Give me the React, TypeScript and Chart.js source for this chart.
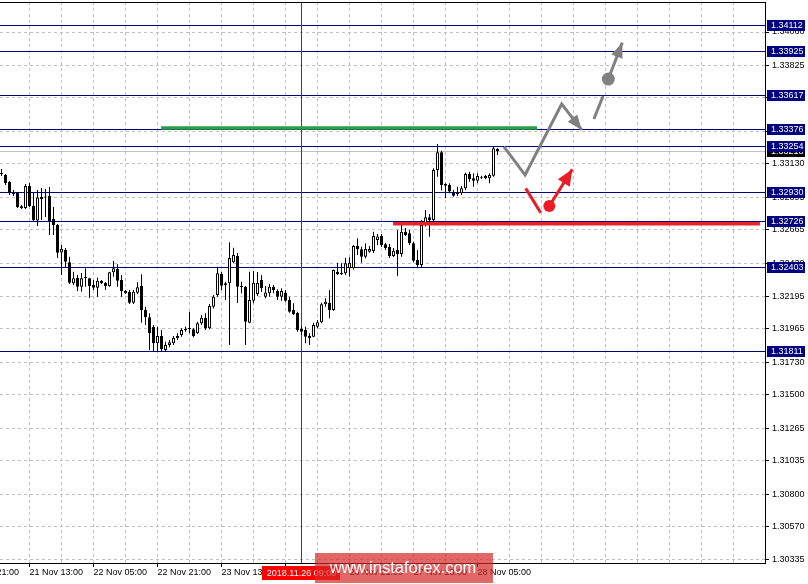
import React, { useEffect, useRef } from "react";
import { Chart, registerables } from "chart.js";
Chart.register(...registerables);

// ---- candle data (H1 bars, index 0 = 21 Nov 06:00) ----
const opens = [1.33058,1.33051,1.33002,1.32928,1.32924,1.3283,1.32818,1.32974,1.32833,1.3273,1.32882,1.32892,1.32903,1.32741,1.32699,1.32504,1.32522,1.32435,1.32287,1.32325,1.32263,1.32325,1.32322,1.32275,1.32256,1.32305,1.32289,1.32268,1.32365,1.32388,1.3231,1.32217,1.32228,1.3215,1.32221,1.32268,1.32099,1.32047,1.31981,1.31864,1.31915,1.31817,1.31852,1.31864,1.31899,1.31922,1.31958,1.31965,1.31963,1.31934,1.32005,1.32044,1.3197,1.32122,1.32205,1.32353,1.32273,1.32287,1.32435,1.3248,1.32268,1.32263,1.32009,1.32164,1.32212,1.3231,1.32192,1.32217,1.32263,1.32233,1.32192,1.32223,1.32169,1.32099,1.3208,1.31965,1.31958,1.31915,1.3191,1.31981,1.32012,1.32139,1.3215,1.32099,1.32369,1.32362,1.32358,1.32393,1.32393,1.3255,1.32527,1.32475,1.3251,1.32515,1.32593,1.32621,1.32562,1.32545,1.3248,1.32522,1.32494,1.32651,1.3264,1.32569,1.32452,1.32416,1.32699,1.32753,1.32734,1.33086,1.33211,1.32988,1.32981,1.32926,1.32929,1.32922,1.32957,1.33058,1.33028,1.33011,1.33039,1.33044,1.33028,1.33046,1.33235];
const highs = [1.33093,1.33058,1.33009,1.32945,1.32931,1.3284,1.32988,1.32995,1.32924,1.32945,1.3296,1.32952,1.32967,1.32826,1.32706,1.32557,1.32536,1.32475,1.32369,1.32346,1.3236,1.32393,1.32327,1.3231,1.32327,1.3231,1.32296,1.32369,1.32444,1.32421,1.32346,1.3224,1.3224,1.3224,1.32294,1.32351,1.32122,1.32075,1.31993,1.31981,1.31958,1.31875,1.31887,1.31915,1.31934,1.3197,1.31981,1.32087,1.3197,1.32016,1.32064,1.32075,1.32141,1.32205,1.32404,1.32369,1.32298,1.32576,1.32538,1.32501,1.32298,1.32268,1.32369,1.32374,1.32367,1.32346,1.32268,1.32282,1.32275,1.32245,1.32252,1.3224,1.32192,1.32146,1.32087,1.31981,1.31981,1.31934,1.32009,1.32028,1.3215,1.32181,1.3224,1.32385,1.32432,1.32428,1.32468,1.32471,1.32557,1.32605,1.32545,1.32569,1.3255,1.32651,1.32635,1.32635,1.32571,1.32564,1.32536,1.32663,1.32706,1.32677,1.32663,1.32581,1.32522,1.32734,1.32804,1.32776,1.33098,1.3327,1.33223,1.32993,1.32993,1.32945,1.32969,1.32974,1.33067,1.33074,1.33063,1.33063,1.33046,1.33051,1.33063,1.33251,1.3324];
const lows = [1.33044,1.32981,1.3291,1.32903,1.32819,1.32812,1.32812,1.32826,1.32727,1.32692,1.32734,1.32755,1.32628,1.32628,1.32466,1.32346,1.32402,1.32282,1.32275,1.32233,1.32228,1.32263,1.32183,1.3224,1.32192,1.32282,1.3224,1.32263,1.32334,1.32263,1.32192,1.32212,1.32141,1.32141,1.32212,1.32009,1.31993,1.31817,1.31805,1.31805,1.31805,1.31803,1.31836,1.31852,1.31887,1.3191,1.31946,1.31934,1.31906,1.31929,1.31993,1.31958,1.31963,1.3211,1.32192,1.3224,1.32169,1.31852,1.32428,1.32148,1.32217,1.31852,1.32005,1.32146,1.32197,1.32226,1.32181,1.32192,1.32217,1.32169,1.32164,1.32157,1.3208,1.32064,1.31946,1.31922,1.31864,1.31852,1.31906,1.3197,1.32005,1.32122,1.3204,1.32094,1.32346,1.32346,1.32346,1.32334,1.32385,1.32487,1.32432,1.32464,1.32503,1.32501,1.32557,1.32543,1.32522,1.32466,1.32473,1.32339,1.32475,1.32621,1.32557,1.32437,1.32393,1.32402,1.32687,1.32616,1.32727,1.33039,1.32941,1.32887,1.32922,1.32898,1.32903,1.3291,1.32945,1.33004,1.32969,1.32993,1.33023,1.33021,1.32993,1.33039,1.33192];
const closes = [1.33062,1.32995,1.32924,1.32917,1.32826,1.32818,1.32974,1.32833,1.32734,1.32892,1.32896,1.329,1.32727,1.32699,1.32503,1.32529,1.32439,1.32291,1.32322,1.32263,1.32322,1.32327,1.32268,1.32256,1.32305,1.32287,1.32268,1.32365,1.32393,1.32305,1.32233,1.32233,1.3215,1.32228,1.32259,1.32099,1.32047,1.31934,1.31864,1.31915,1.31822,1.31852,1.31871,1.31903,1.31915,1.31958,1.31965,1.31967,1.31915,1.32005,1.32044,1.3197,1.32127,1.32192,1.32358,1.3227,1.32287,1.32466,1.32487,1.32263,1.32261,1.32016,1.32169,1.32291,1.32289,1.32252,1.32223,1.32263,1.3224,1.32192,1.32233,1.32164,1.32087,1.32069,1.31958,1.31946,1.3191,1.31899,1.31993,1.32012,1.32139,1.32157,1.32099,1.32381,1.32351,1.32351,1.32428,1.32432,1.3255,1.32527,1.32475,1.32529,1.32529,1.32621,1.32617,1.32557,1.32534,1.3248,1.32517,1.32492,1.32651,1.32628,1.32569,1.32447,1.32416,1.32699,1.32753,1.32734,1.33086,1.33211,1.32981,1.32976,1.32934,1.32905,1.32915,1.32957,1.33058,1.33023,1.33011,1.33044,1.33032,1.33028,1.33051,1.3324,1.33221];

// ---- levels & axis ----
const levelValues = [1.34112, 1.33925, 1.33617, 1.33376, 1.33254, 1.3293, 1.32726, 1.32403, 1.31811];
const bidPrice = 1.33218;
const yTickValues = [1.30335,1.3057,1.308,1.31035,1.31265,1.315,1.3173,1.31965,1.32195,1.3243,1.32665,1.32895,1.3313,1.3336,1.33595,1.33825,1.3406];
const yTickLabels = ["1.30335","1.30570","1.30800","1.31035","1.31265","1.31500","1.31730","1.31965","1.32195","1.32430","1.32665","1.32895","1.33130","1.33360","1.33595","1.33825","1.34060"];
const xTickBars = [-9, 7, 23, 39, 55, 71, 87, 103, 119];
const xTickLabels = ["20 Nov 21:00","21 Nov 13:00","22 Nov 05:00","22 Nov 21:00","23 Nov 13:00","26 Nov 05:00","26 Nov 21:00","27 Nov 13:00","28 Nov 05:00"];
const markerBar = 75;
const markerLabel = "2018.11.26 09:00";
const watermark = "www.instaforex.com";

// ---- drawn objects ----
const greenX = [39.9, 133.9];
const greenY = 1.33383;
const redLineX = [97.9, 189.6];
const redLineY = 1.32707;
const grayPathX = [125.6, 130.9, 140.05, 145.05];
const grayPathY = [1.33251, 1.33051, 1.33552, 1.33369];
const graySegX = [148.1, 150.4];
const graySegY = [1.33446, 1.33609];
const grayArrowX = [151.7, 155.2];
const grayArrowY = [1.33728, 1.33985];
const redSegX = [131.05, 134.8];
const redSegY = [1.32957, 1.32785];
const redArrowX = [136.95, 142.7];
const redArrowY = [1.32832, 1.33091];

const X_MIN = -0.375;
const X_MAX = 190.875;
const Y_MIN = 1.303138;
const Y_MAX = 1.342717;
const FONT = "Liberation Sans";

const pts = (xs: number[], ys: number[]) => xs.map((x, i) => ({ x, y: ys[i] }));

function arrowHead(ctx: CanvasRenderingContext2D, fx: number, fy: number, tx: number, ty: number, len: number, w: number, color: string) {
  const a = Math.atan2(ty - fy, tx - fx);
  const bx = tx - len * Math.cos(a);
  const by = ty - len * Math.sin(a);
  const nx = -Math.sin(a) * w / 2;
  const ny = Math.cos(a) * w / 2;
  ctx.save();
  ctx.fillStyle = color;
  ctx.beginPath();
  ctx.moveTo(tx, ty);
  ctx.lineTo(bx + nx, by + ny);
  ctx.lineTo(bx - nx, by - ny);
  ctx.closePath();
  ctx.fill();
  ctx.restore();
}

const overlay = {
  id: "overlay",
  beforeDatasetsDraw(chart: any) {
    const { ctx, chartArea, scales } = chart;
    const { left, right, top, bottom } = chartArea;
    const y = scales.y, x = scales.x;
    ctx.save();
    ctx.lineWidth = 1;
    ctx.setLineDash([]);
    const hline = (v: number, color: string) => {
      const py = Math.round(y.getPixelForValue(v)) + 0.5;
      ctx.strokeStyle = color;
      ctx.beginPath();
      ctx.moveTo(left, py);
      ctx.lineTo(right, py);
      ctx.stroke();
    };
    hline(bidPrice, "#c0c0c0");
    levelValues.forEach((v) => hline(v, "#000080"));
    const mx = Math.floor(x.getPixelForValue(markerBar)) + 0.5;
    ctx.strokeStyle = "#e00000";
    ctx.beginPath();
    ctx.moveTo(mx, top);
    ctx.lineTo(mx, bottom);
    ctx.stroke();
    ctx.restore();
  },
  afterDatasetsDraw(chart: any) {
    const { ctx } = chart;
    const head = (dsIndex: number, len: number, w: number, color: string) => {
      const d = chart.getDatasetMeta(dsIndex).data;
      const a = d[d.length - 2], b = d[d.length - 1];
      arrowHead(ctx, a.x, a.y, b.x, b.y, len, w, color);
    };
    head(4, 15, 12, "#808080");
    head(6, 15, 12, "#808080");
    head(8, 16, 14, "#ed1c24");
  },
  afterDraw(chart: any) {
    const { ctx, chartArea, scales } = chart;
    const { left, right, top, bottom } = chartArea;
    const y = scales.y, x = scales.x;
    ctx.save();
    ctx.setLineDash([]);
    // top border
    ctx.strokeStyle = "#000";
    ctx.lineWidth = 1;
    ctx.beginPath();
    ctx.moveTo(left, top + 0.5);
    ctx.lineTo(right, top + 0.5);
    ctx.stroke();
    // price boxes
    ctx.font = `9px "${FONT}"`;
    ctx.textBaseline = "middle";
    ctx.textAlign = "left";
    const box = (v: number, bg: string) => {
      const py = Math.round(y.getPixelForValue(v));
      ctx.fillStyle = bg;
      ctx.fillRect(right + 2, py - 5, 38, 11);
      ctx.fillStyle = "#fff";
      ctx.fillText(v.toFixed(5), right + 6, py + 0.5);
    };
    box(bidPrice, "#000");
    levelValues.forEach((v) => box(v, "#000080"));
    // date box
    const mx = Math.floor(x.getPixelForValue(markerBar)) + 0.5;
    ctx.fillStyle = "#ff0000";
    ctx.fillRect(mx - 39.5, bottom + 3, 78, 14);
    ctx.fillStyle = "#fff";
    ctx.textAlign = "center";
    ctx.fillText(markerLabel, mx, bottom + 10.5);
    // watermark
    ctx.fillStyle = "rgba(214, 40, 40, 0.7)";
    ctx.fillRect(315, bottom - 10, 178, 30);
    ctx.fillStyle = "#fff";
    ctx.font = `16.5px "${FONT}"`;
    ctx.textAlign = "center";
    ctx.fillText(watermark, 403, bottom + 5);
    ctx.restore();
  },
};

export default function App() {
  const ref = useRef<HTMLCanvasElement>(null);
  useEffect(() => {
    const idx = opens.map((_, i) => i);
    const up = idx.map((i) => closes[i] >= opens[i]);
    const chart = new Chart(ref.current as HTMLCanvasElement, {
      type: "bar",
      data: {
        datasets: [
          {
            type: "bar",
            data: idx.map((i) => ({ x: i, y: [lows[i], highs[i]] })) as any,
            backgroundColor: "#000",
            borderWidth: 0,
            barThickness: 1,
            grouped: false,
            inflateAmount: 0,
            order: 6,
          } as any,
          {
            type: "bar",
            data: idx.map((i) => ({ x: i, y: [opens[i], closes[i]] })) as any,
            backgroundColor: idx.map((i) => (up[i] ? "#fff" : "#000")),
            borderColor: "#000",
            borderWidth: 1,
            borderSkipped: false,
            barThickness: 3,
            minBarLength: 1,
            grouped: false,
            inflateAmount: 0,
            order: 5,
          } as any,
          {
            type: "line",
            data: pts(greenX, [greenY, greenY]),
            borderColor: "#28a046",
            borderWidth: 3.5,
            pointRadius: 0,
            order: 3,
          } as any,
          {
            type: "line",
            data: pts(redLineX, [redLineY, redLineY]),
            borderColor: "#ea2228",
            borderWidth: 3.5,
            pointRadius: 0,
            order: 3,
          } as any,
          {
            type: "line",
            data: pts(grayPathX, grayPathY),
            borderColor: "#808080",
            borderWidth: 3,
            borderJoinStyle: "miter",
            pointRadius: 0,
            order: 2,
          } as any,
          {
            type: "line",
            data: pts(graySegX, graySegY),
            borderColor: "#808080",
            borderWidth: 3,
            pointRadius: 0,
            order: 2,
          } as any,
          {
            type: "line",
            data: pts(grayArrowX, grayArrowY),
            borderColor: "#808080",
            borderWidth: 3,
            pointRadius: [6.5, 0],
            pointBackgroundColor: "#808080",
            pointBorderWidth: 0,
            order: 2,
          } as any,
          {
            type: "line",
            data: pts(redSegX, redSegY),
            borderColor: "#ed1c24",
            borderWidth: 3,
            pointRadius: 0,
            order: 1,
          } as any,
          {
            type: "line",
            data: pts(redArrowX, redArrowY),
            borderColor: "#ed1c24",
            borderWidth: 3,
            pointRadius: [6, 0],
            pointBackgroundColor: "#ed1c24",
            pointBorderWidth: 0,
            order: 1,
          } as any,
        ],
      },
      options: {
        animation: false,
        responsive: true,
        maintainAspectRatio: false,
        devicePixelRatio: 1,
        events: [],
        layout: { autoPadding: false, padding: { top: 2, left: 0, right: 0, bottom: 0 } },
        plugins: { legend: { display: false }, tooltip: { enabled: false } },
        scales: {
          x: {
            type: "linear",
            min: X_MIN,
            max: X_MAX,
            offset: false,
            afterBuildTicks: (scale: any) => {
              const t = [];
              for (let b = -9; b <= 190; b += 8) t.push({ value: b });
              scale.ticks = t;
            },
            afterFit: (scale: any) => {
              scale.height = 21;
              scale.paddingLeft = 0;
              scale.paddingRight = 0;
              scale.paddingTop = 0;
              scale.paddingBottom = 0;
            },
            grid: {
              offset: false,
              color: "#c0c0c0",
              lineWidth: 1,
              drawTicks: true,
              tickLength: 4,
              tickBorderDash: [],
              tickColor: (c: any) => (c.tick && xTickBars.includes(c.tick.value) ? "#000" : "rgba(0,0,0,0)"),
              borderDash: [3, 3],
            } as any,
            border: { display: true, color: "#000", width: 1, dash: [3, 3] } as any,
            ticks: {
              autoSkip: false,
              maxRotation: 0,
              minRotation: 0,
              align: "start",
              padding: 0,
              color: "#000",
              font: { family: FONT, size: 9 },
              callback: (v: any) => {
                const k = xTickBars.indexOf(Number(v));
                return k >= 0 ? xTickLabels[k] : "";
              },
            },
          },
          y: {
            type: "linear",
            position: "right",
            min: Y_MIN,
            max: Y_MAX,
            beginAtZero: false,
            afterBuildTicks: (scale: any) => {
              scale.ticks = yTickValues.map((v) => ({ value: v }));
            },
            afterFit: (scale: any) => {
              scale.width = 43;
              scale.paddingLeft = 0;
              scale.paddingRight = 0;
              scale.paddingTop = 0;
              scale.paddingBottom = 0;
            },
            grid: {
              color: "#c0c0c0",
              lineWidth: 1,
              drawTicks: true,
              tickLength: 4,
              tickColor: "#000",
              tickBorderDash: [],
              borderDash: [3, 3],
            } as any,
            border: { display: true, color: "#000", width: 1, dash: [3, 3] } as any,
            ticks: {
              padding: 3,
              color: "#000",
              font: { family: FONT, size: 9 },
              autoSkip: false,
              callback: (_v: any, i: number) => yTickLabels[i],
            },
          },
        },
      },
      plugins: [overlay],
    } as any);
    return () => chart.destroy();
  }, []);
  return (
    <div style={{ position: "fixed", left: 0, top: 0, width: 808, height: 584, background: "#fff" }}>
      <canvas ref={ref} />
    </div>
  );
}
